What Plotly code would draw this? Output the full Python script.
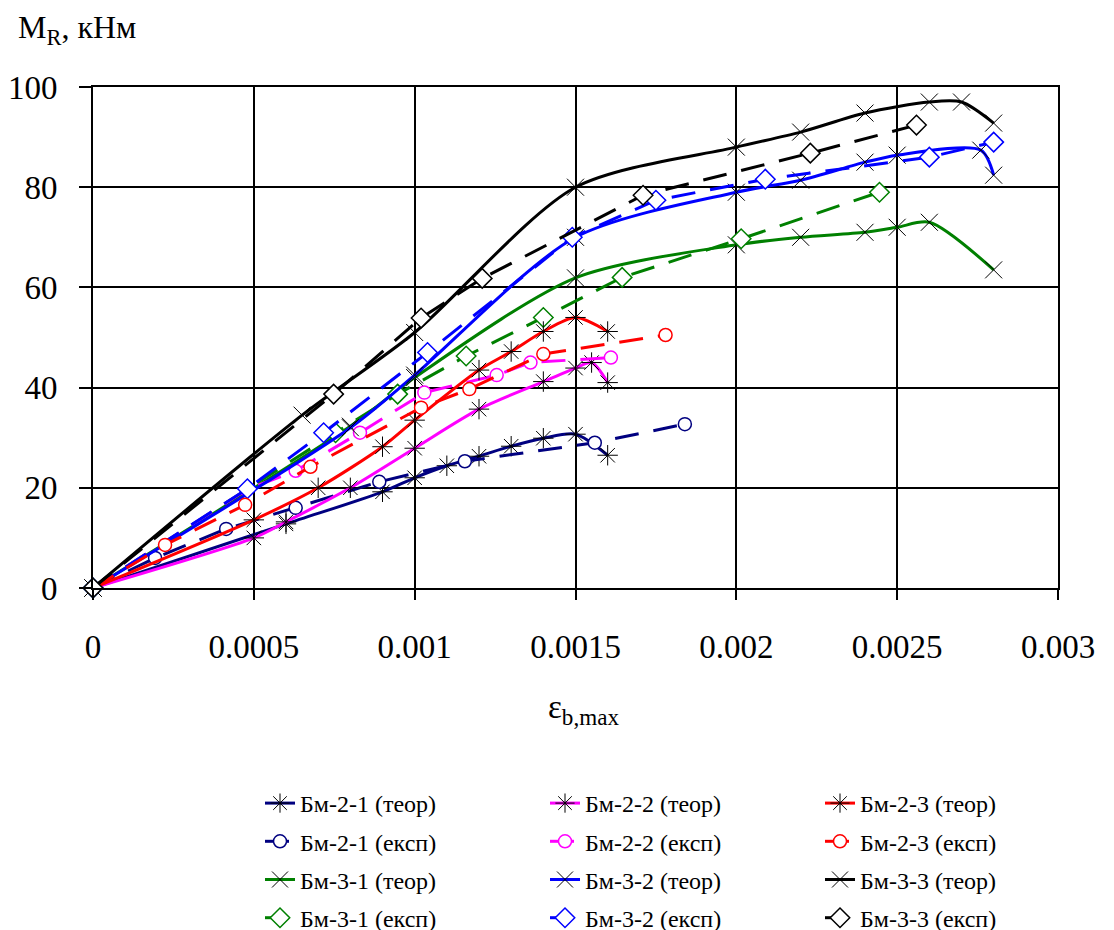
import plotly.graph_objects as go

# ---------------- data ----------------
x_tick_vals = [0, 0.0005, 0.001, 0.0015, 0.002, 0.0025, 0.003]
x_tick_text = ["0", "0.0005", "0.001", "0.0015", "0.002", "0.0025", "0.003"]
y_tick_vals = [0, 20, 40, 60, 80, 100]

# Бм-2-1
bm21_t_x = [0, 0.0006, 0.0009, 0.001, 0.0011, 0.0012, 0.0013, 0.0014, 0.0015, 0.0016]
bm21_t_y = [0, 12.8, 19.2, 22.0, 24.4, 26.3, 28.3, 29.9, 30.7, 26.5]
bm21_e_x = [0, 0.000193, 0.000414, 0.00063, 0.00089, 0.001156, 0.00156, 0.00184]
bm21_e_y = [0, 6.0, 11.8, 16.0, 21.2, 25.3, 29.0, 32.7]

# Бм-2-2
bm22_t_x = [0, 0.0005, 0.0006, 0.0008, 0.001, 0.0012, 0.0014, 0.0015, 0.00155, 0.0016]
bm22_t_y = [0, 10.0, 13.2, 20.0, 27.9, 35.7, 41.2, 43.9, 45.0, 41.0]
bm22_e_x = [0, 0.000477, 0.00063, 0.00083, 0.00103, 0.001255, 0.00136, 0.00161]
bm22_e_y = [0, 19.6, 23.4, 31.0, 39.0, 42.5, 45.0, 46.0]

# Бм-2-3
bm23_t_x = [0, 0.0005, 0.0007, 0.0009, 0.001, 0.0012, 0.0013, 0.0014, 0.0015, 0.0016]
bm23_t_y = [0, 13.6, 20.0, 28.2, 33.5, 43.5, 47.2, 51.2, 54.0, 51.2]
bm23_e_x = [0, 0.000224, 0.000473, 0.000676, 0.00102, 0.00117, 0.0014, 0.00178]
bm23_e_y = [0, 8.6, 16.6, 24.2, 36.0, 39.7, 46.7, 50.5]

# Бм-3-1
bm31_t_x = [0, 0.0008, 0.001, 0.0015, 0.002, 0.0022, 0.0024, 0.0025, 0.0026, 0.0028]
bm31_t_y = [0, 32.3, 42.0, 61.9, 68.5, 70.0, 71.0, 72.0, 73.0, 63.5]
bm31_e_x = [0, 0.000754, 0.000947, 0.00116, 0.0014, 0.001645, 0.002015, 0.002445]
bm31_e_y = [0, 31.0, 38.7, 46.3, 54.0, 62.0, 69.7, 79.0]

# Бм-3-2
bm32_t_x = [0, 0.0008, 0.001, 0.0015, 0.002, 0.0022, 0.0024, 0.0025, 0.00276, 0.0028]
bm32_t_y = [0, 32.0, 42.5, 70.0, 79.0, 81.4, 85.0, 86.4, 87.4, 82.4]
bm32_e_x = [0, 0.00048, 0.000717, 0.00104, 0.00149, 0.00175, 0.00209, 0.0026, 0.0028]
bm32_e_y = [0, 19.8, 31.0, 47.0, 70.0, 77.4, 81.6, 86.0, 89.0]

# Бм-3-3
bm33_t_x = [0, 0.00065, 0.001, 0.0015, 0.002, 0.0022, 0.0024, 0.0026, 0.0027, 0.0028]
bm33_t_y = [0, 34.5, 51.0, 80.0, 88.0, 91.0, 94.8, 97.0, 97.0, 92.8]
bm33_e_x = [0, 0.000748, 0.00102, 0.00121, 0.00171, 0.00223, 0.00256]
bm33_e_y = [0, 38.7, 53.9, 61.8, 78.4, 86.8, 92.4]

# ---------------- styling ----------------
NAVY, MAGENTA, RED = "#000080", "#FF00FF", "#FF0000"
GREEN, BLUE, BLACK = "#008000", "#0000FF", "#000000"
FONT = "Liberation Serif"

fig = go.Figure()


def theor(x, y, name, color, symbol, legend):
    fig.add_trace(go.Scatter(
        x=x, y=y, name=name, mode="lines+markers", legend=legend,
        legendgroup=name,
        line=dict(color=color, width=3, shape="spline", smoothing=0.8),
        marker=dict(symbol=symbol, size=17, color="black",
                    line=dict(color="black", width=1)),
        cliponaxis=False))


def exper(x, y, name, color, symbol, legend, size):
    fig.add_trace(go.Scatter(
        x=x, y=y, name=name, mode="lines+markers", legend=legend,
        legendgroup=name,
        line=dict(color=color, width=3, dash="24px,15px"),
        marker=dict(symbol=symbol, size=size, color="white",
                    line=dict(color=color, width=1.5)),
        cliponaxis=False))


# legend column 1
theor(bm21_t_x, bm21_t_y, "Бм-2-1 (теор)", NAVY, "asterisk-open", "legend")
exper(bm21_e_x, bm21_e_y, "Бм-2-1 (експ)", NAVY, "circle", "legend", 13)
theor(bm31_t_x, bm31_t_y, "Бм-3-1 (теор)", GREEN, "x-thin-open", "legend")
exper(bm31_e_x, bm31_e_y, "Бм-3-1 (експ)", GREEN, "diamond", "legend", 15)
# legend column 2
theor(bm22_t_x, bm22_t_y, "Бм-2-2 (теор)", MAGENTA, "asterisk-open", "legend2")
exper(bm22_e_x, bm22_e_y, "Бм-2-2 (експ)", MAGENTA, "circle", "legend2", 13)
theor(bm32_t_x, bm32_t_y, "Бм-3-2 (теор)", BLUE, "x-thin-open", "legend2")
exper(bm32_e_x, bm32_e_y, "Бм-3-2 (експ)", BLUE, "diamond", "legend2", 15)
# legend column 3
theor(bm23_t_x, bm23_t_y, "Бм-2-3 (теор)", RED, "asterisk-open", "legend3")
exper(bm23_e_x, bm23_e_y, "Бм-2-3 (експ)", RED, "circle", "legend3", 13)
theor(bm33_t_x, bm33_t_y, "Бм-3-3 (теор)", BLACK, "x-thin-open", "legend3")
exper(bm33_e_x, bm33_e_y, "Бм-3-3 (експ)", BLACK, "diamond", "legend3", 15)

# page body adds an 8px offset, so figure coordinates are screen - 8
PLOT_L, PLOT_R, PLOT_T, PLOT_B = 85, 1050, 79, 580
W, H = 1106, 1000
pw, ph = PLOT_R - PLOT_L, PLOT_B - PLOT_T


def px_x(px):
    return (px - PLOT_L) / pw


def px_y(py):
    return (PLOT_B - py) / ph


legend_common = dict(orientation="v", xanchor="left", yanchor="top",
                     tracegroupgap=4, bgcolor="rgba(0,0,0,0)",
                     font=dict(family=FONT, size=24, color="black"))
LEG_TOP = 773

fig.update_layout(
    width=W, height=H,
    margin=dict(l=PLOT_L, r=W - PLOT_R, t=PLOT_T, b=H - PLOT_B, pad=0),
    plot_bgcolor="white", paper_bgcolor="white",
    font=dict(family=FONT, color="black"),
    showlegend=True,
    legend=dict(legend_common, x=px_x(252), y=px_y(LEG_TOP)),
    legend2=dict(legend_common, x=px_x(537), y=px_y(LEG_TOP)),
    legend3=dict(legend_common, x=px_x(812), y=px_y(LEG_TOP)),
    xaxis=dict(range=[0, 0.003], tickvals=x_tick_vals, ticktext=x_tick_text,
               automargin=False,
               showgrid=True, gridcolor="black", gridwidth=1.5,
               showline=True, linecolor="black", linewidth=2, mirror=True,
               ticks="outside", ticklen=10, tickwidth=1.5, tickcolor="black",
               tickfont=dict(family=FONT, size=33, color="black"),
               ticklabelstandoff=18, zeroline=False),
    yaxis=dict(range=[0, 100], tickvals=y_tick_vals,
               automargin=False,
               showgrid=True, gridcolor="black", gridwidth=1.5,
               showline=True, linecolor="black", linewidth=2, mirror=True,
               ticks="outside", ticklen=12, tickwidth=1.5, tickcolor="black",
               tickfont=dict(family=FONT, size=33, color="black"),
               ticklabelstandoff=15, zeroline=False),
    annotations=[
        dict(text="M<sub>R</sub>, кНм", xref="paper", yref="paper",
             x=px_x(8), y=px_y(21), xanchor="left", yanchor="middle",
             showarrow=False, font=dict(family=FONT, size=32, color="black")),
        dict(text="ε<sub>b,max</sub>", xref="paper", yref="paper",
             x=px_x(575), y=px_y(701), xanchor="center", yanchor="middle",
             showarrow=False, font=dict(family=FONT, size=33, color="black")),
    ],
)

fig.write_html("out.html")
